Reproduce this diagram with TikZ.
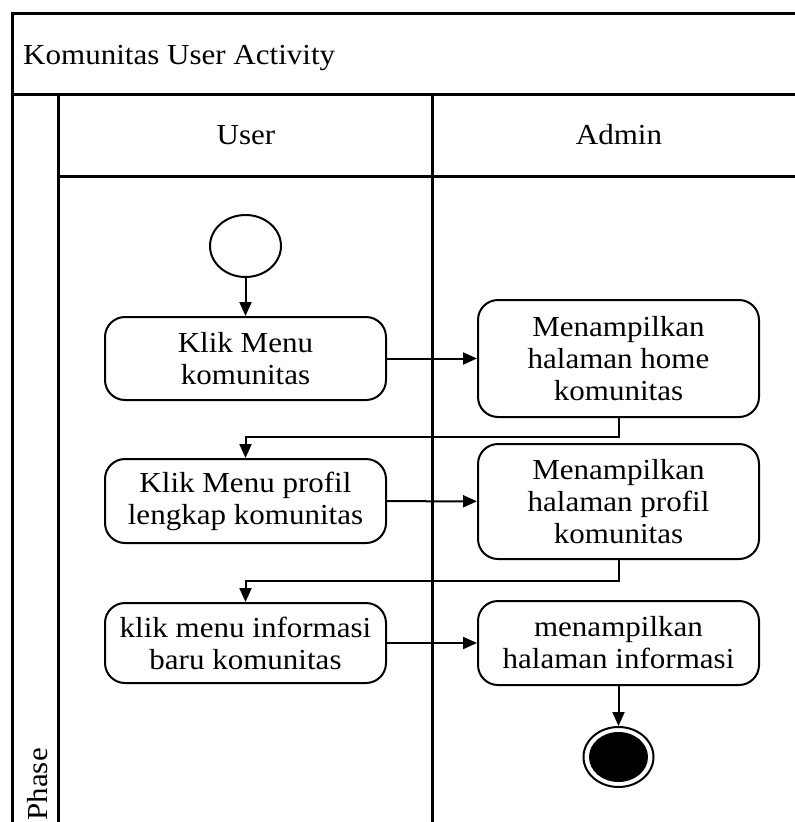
\documentclass[tikz,border=0pt]{standalone}
\usepackage{fontspec}
\setmainfont{Liberation Serif}[FakeStretch=1.07]
\usetikzlibrary{arrows.meta,shapes.geometric}
\begin{document}
\begin{tikzpicture}[x=1pt,y=-1pt,
  frame/.style={line width=2.3pt},
  lbl/.style={font=\fontsize{29}{32}\selectfont, inner sep=0pt},
  act/.style={draw, line width=2pt, rounded corners=20pt, minimum width=281pt,
    align=center, inner sep=0pt, font=\fontsize{29}{32}\selectfont},
  flow/.style={line width=2pt, -{Triangle[length=14pt,width=12pt]}},
  oval/.style={draw, line width=2pt, shape=ellipse, inner sep=0pt},
]
\useasboundingbox (0,0) rectangle (795,822);
\clip (0,0) rectangle (795,822);
\fill[white] (0,0) rectangle (795,822);

% swimlane frame
\draw[frame] (830,13.5) -- (12.5,13.5) -- (12.5,840);
\draw[frame] (12.5,94.5) -- (830,94.5);
\draw[frame] (58.5,94.5) -- (58.5,840);
\draw[frame] (58.5,176.5) -- (830,176.5);
\draw[frame] (432.5,94.5) -- (432.5,840);

% titles
\node[lbl, anchor=base west] (title) at (23,64) {Komunitas User Activity};
\node[lbl, anchor=base] (laneU) at (246,144) {User};
\node[lbl, anchor=base] (laneA) at (619,144) {Admin};
\node[lbl, anchor=base east, rotate=90] (phase) at (47,748) {Phase};

% start and end
\node[oval, minimum width=71pt, minimum height=62pt] (start) at (245.5,246) {};
\node[oval, minimum width=70pt, minimum height=60pt] (finish) at (618.5,757) {};
\fill (finish.center) ellipse [x radius=29.5, y radius=25];

% activities
\node[act, minimum height=83pt] (b1) at (245.5,358.5) {Klik Menu\\komunitas};
\node[act, minimum height=117pt] (b2) at (618.5,358.5) {Menampilkan\\halaman home\\komunitas};
\node[act, minimum height=84pt] (b3) at (245.5,501) {Klik Menu profil\\lengkap komunitas};
\node[act, minimum height=115pt] (b4) at (618.5,501.5) {Menampilkan\\halaman profil\\komunitas};
\node[act, minimum height=80pt] (b5) at (245.5,643) {klik menu informasi\\baru komunitas};
\node[act, minimum height=84pt] (b6) at (618.5,643) {menampilkan\\halaman informasi};

% flows
\draw[flow] (start) -- (b1);
\draw[flow] (b1) -- (b2);
\draw[flow] (b2.south) -- ++(0,19) -| (b3.north);
\draw[flow] (b3) -- (b4);
\draw[flow] (b4.south) -- ++(0,21) -| (b5.north);
\draw[flow] (b5) -- (b6);
\draw[flow] (b6) -- (finish);
\end{tikzpicture}
\end{document}
